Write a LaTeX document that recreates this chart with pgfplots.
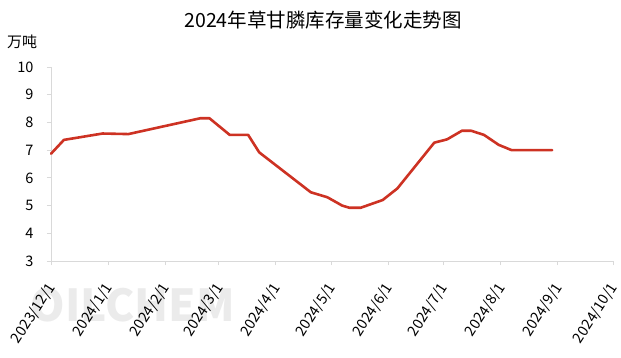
\documentclass[border=0pt]{standalone}
\usepackage{pgfplots}
\pgfplotsset{compat=1.18}
\usepackage{fontspec}
\setmainfont{Noto Sans CJK SC}
\definecolor{lred}{RGB}{205,50,35}
\definecolor{axgray}{RGB}{217,217,217}
\begin{document}
\begin{tikzpicture}[x=1pt,y=1pt]
\path[use as bounding box] (0,0) rectangle (621,357);
\node[text=black!8, font=\fontsize{44}{44}\selectfont\bfseries] at (133,52) {OILCHEM};
\node[font=\fontsize{19.5}{19.5}\selectfont] at (323,337) {2024年草甘膦库存量变化走势图};
\node[font=\fontsize{15}{15}\selectfont] at (22,315) {万吨};
\begin{axis}[
  at={(51pt,96pt)}, anchor=south west,
  scale only axis, width=562pt, height=194pt,
  xmin=0, xmax=305, ymin=3, ymax=10,
  ytick={3,4,5,6,7,8,9,10},
  xtick={0,31,62,91,122,152,183,213,244,275,305},
  xticklabels={2023/12/1,2024/1/1,2024/2/1,2024/3/1,2024/4/1,2024/5/1,2024/6/1,2024/7/1,2024/8/1,2024/9/1,2024/10/1},
  axis x line*=bottom, axis y line*=left,
  axis line style={draw=axgray, line width=1pt, -},
  tick style={draw=axgray, line width=1pt},
  tick align=outside, major tick length=4pt,
  ticklabel style={font=\fontsize{14.5}{14.5}\selectfont},
  xticklabel style={yshift=-17pt, xshift=3pt, rotate=57, anchor=east},
  yticklabel style={anchor=east, xshift=-10pt},
  /pgf/number format/assume math mode=true,
  clip=false,
]
\addplot[lred, line width=2.6pt, line join=round, line cap=round] coordinates {
(0,6.87) (7,7.37) (28,7.60) (42,7.58) (81,8.15) (86,8.15) (97,7.55) (107,7.55)
(113,6.92) (141,5.48) (150,5.30) (158,5.00) (162,4.92) (168,4.92) (180,5.20)
(188,5.62) (208,7.27) (215,7.39) (223,7.70) (228,7.70) (235,7.55) (243,7.19)
(250,7.00) (272,7.00)
};
\end{axis}
\end{tikzpicture}
\end{document}
